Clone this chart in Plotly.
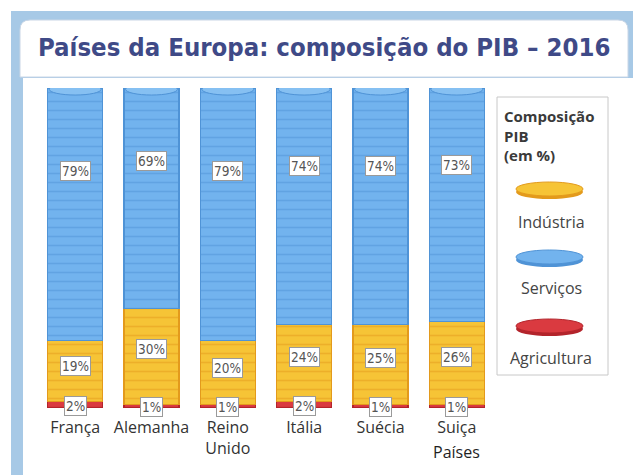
import plotly.graph_objects as go

# ---- data ----
paises = ["França", "Alemanha", "Reino<br>Unido", "Itália", "Suécia", "Suiça"]
agricultura = [2, 1, 1, 2, 1, 1]
industria = [19, 30, 20, 24, 25, 26]
servicos = [79, 69, 79, 74, 74, 73]

titulo = "Países da Europa: composição do PIB – 2016"
legenda_titulo = "Composição<br>PIB<br>(em %)"
nomes = ["Indústria", "Serviços", "Agricultura"]
eixo_x = "Países"

# ---- style ----
C_BLUE, C_BLUE_D = "#72b3ee", "#4f93d6"
C_YEL, C_YEL_D = "#f6c436", "#e39a1c"
C_RED, C_RED_D = "#da3a40", "#b3242b"
W, H = 633, 475
L, R, T, B = 37, 495, 88, 408   # plot area in pixels


def px(x):
    return (x - L) / (R - L)


def py(y):
    return (B - y) / (B - T)


fig = go.Figure()
x = list(range(len(paises)))

for vals, col, dcol, name in [
    (agricultura, C_RED, C_RED_D, nomes[2]),
    (industria, C_YEL, C_YEL_D, nomes[0]),
    (servicos, C_BLUE, C_BLUE_D, nomes[1]),
]:
    fig.add_trace(go.Bar(
        x=x, y=vals, name=name, width=0.72,
        marker=dict(color=col, line=dict(color=dcol, width=1.2),
                    pattern=dict(shape="-", fgcolor=dcol, size=9, solidity=0.18)),
        showlegend=False, hoverinfo="y+name",
    ))

shapes = []
ann = []

# frame
shapes.append(dict(type="rect", xref="paper", yref="paper", layer="below",
                   x0=px(11), x1=px(640), y0=py(11), y1=py(480),
                   fillcolor="#a7c9e6", line=dict(width=0)))
shapes.append(dict(type="rect", xref="paper", yref="paper", layer="below",
                   x0=px(23), x1=px(640), y0=py(78), y1=py(480),
                   fillcolor="white", line=dict(width=0)))
shapes.append(dict(type="path", xref="paper", yref="paper", layer="below",
                   path=(f"M {px(20)},{py(77)} L {px(20)},{py(30)} "
                         f"Q {px(20)},{py(20)} {px(30)},{py(20)} "
                         f"L {px(618)},{py(20)} Q {px(628)},{py(20)} {px(628)},{py(30)} "
                         f"L {px(628)},{py(77)} Z"),
                   fillcolor="white", line=dict(color="#c9d6e6", width=1)))

# coin tops on each column (from data)
for i in x:
    tot = agricultura[i] + industria[i] + servicos[i]
    shapes.append(dict(type="circle", xref="x", yref="y", layer="above",
                       x0=i - 0.34, x1=i + 0.34, y0=tot - 2.2, y1=tot + 1.4,
                       fillcolor="#86c0f2", line=dict(color=C_BLUE_D, width=1)))

# percentage labels
lab_font = dict(family="DejaVu Sans Condensed, DejaVu Sans, sans-serif", size=13.5, color="#555555")
for i in x:
    a, ind, s = agricultura[i], industria[i], servicos[i]
    for val, ypos in [(s, a + ind + 0.67 * s), (ind, a + 0.58 * ind), (a, 0.3 * a)]:
        ann.append(dict(x=i, y=ypos, xref="x", yref="y", text=f"{val}%",
                        showarrow=False, font=lab_font, bgcolor="white",
                        bordercolor="#9a9a9a", borderwidth=1, borderpad=1))

# title
ann.append(dict(x=px(324), y=py(47), xref="paper", yref="paper", text=f"<b>{titulo}</b>",
                showarrow=False, xanchor="center", yanchor="middle",
                font=dict(family="DejaVu Sans Condensed, DejaVu Sans, sans-serif",
                          size=25.5, color="#3f4a87")))

# axis title
ann.append(dict(x=5, y=py(452), xref="x", yref="paper", text=eixo_x, showarrow=False,
                xanchor="center", yanchor="middle",
                font=dict(family="Open Sans, sans-serif", size=16, color="#1f1f1f")))

# custom legend
shapes.append(dict(type="rect", xref="paper", yref="paper", layer="above",
                   x0=px(497), x1=px(608), y0=py(97), y1=py(375),
                   fillcolor="white", line=dict(color="#c8c8c8", width=1)))
ann.append(dict(x=px(502), y=py(104), xref="paper", yref="paper",
                text=f"<b>{legenda_titulo}</b>", showarrow=False, align="left",
                xanchor="left", yanchor="top",
                font=dict(family="Open Sans, sans-serif", size=15, color="#3a3a3a")))
leg_items = [(nomes[0], C_YEL, C_YEL_D, 190, 222),
             (nomes[1], C_BLUE, C_BLUE_D, 258, 288),
             (nomes[2], C_RED, C_RED_D, 327, 358)]
for name, col, dcol, ey, ty in leg_items:
    shapes.append(dict(type="circle", xref="paper", yref="paper", layer="above",
                       x0=px(516), x1=px(583), y0=py(ey + 9), y1=py(ey - 5),
                       fillcolor=dcol, line=dict(width=0)))
    shapes.append(dict(type="circle", xref="paper", yref="paper", layer="above",
                       x0=px(516), x1=px(583), y0=py(ey + 6), y1=py(ey - 8),
                       fillcolor=col, line=dict(color=dcol, width=1)))
    ann.append(dict(x=px(551), y=py(ty), xref="paper", yref="paper", text=name,
                    showarrow=False, xanchor="center", yanchor="middle",
                    font=dict(family="Open Sans, sans-serif", size=16, color="#444444")))

fig.update_layout(
    width=W, height=H, autosize=False,
    margin=dict(l=L, r=W - R, t=T, b=H - B, pad=0),
    paper_bgcolor="white", plot_bgcolor="rgba(0,0,0,0)",
    barmode="stack", bargap=0.28,
    shapes=shapes, annotations=ann,
    xaxis=dict(tickmode="array", tickvals=x, ticktext=paises, range=[-0.5, 5.5],
               showgrid=False, zeroline=False, showline=False, ticks="",
               ticklabelstandoff=8,
               tickfont=dict(family="Open Sans, sans-serif", size=16, color="#333333")),
    yaxis=dict(range=[0, 100], visible=False, showgrid=False, zeroline=False),
    showlegend=False,
)

fig.write_html("out.html", post_script="document.body.style.margin='0';",
               config={"displayModeBar": False})
